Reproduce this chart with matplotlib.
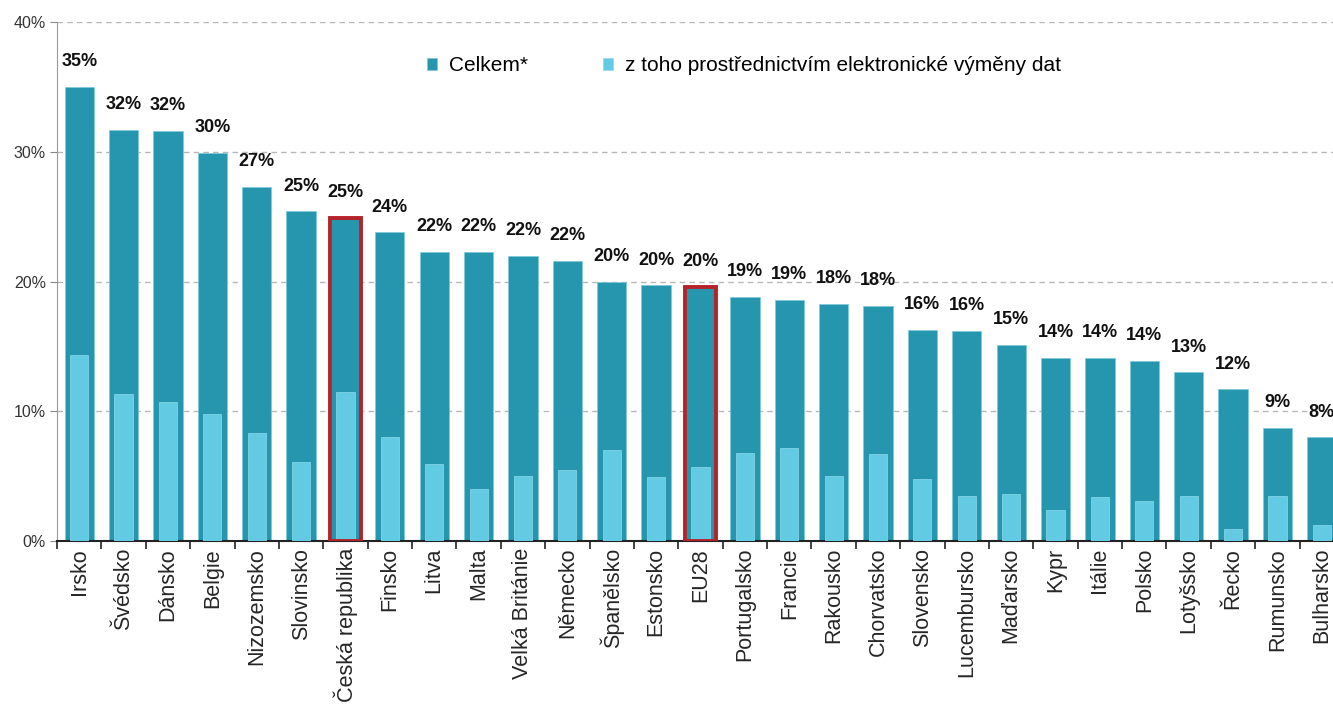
import matplotlib.pyplot as plt
import numpy as np
from matplotlib.ticker import FuncFormatter

plt.rcParams['font.family'] = ['Liberation Sans', 'DejaVu Sans']

countries = ["Irsko", "Švédsko", "Dánsko", "Belgie", "Nizozemsko", "Slovinsko",
             "Česká republika", "Finsko", "Litva", "Malta", "Velká Británie",
             "Německo", "Španělsko", "Estonsko", "EU28", "Portugalsko", "Francie",
             "Rakousko", "Chorvatsko", "Slovensko", "Lucembursko", "Maďarsko",
             "Kypr", "Itálie", "Polsko", "Lotyšsko", "Řecko", "Rumunsko", "Bulharsko"]
celkem = [35.0, 31.7, 31.6, 29.9, 27.3, 25.4, 24.9, 23.8, 22.3, 22.3, 22.0,
          21.6, 20.0, 19.7, 19.6, 18.8, 18.6, 18.3, 18.1, 16.3, 16.2, 15.1,
          14.1, 14.1, 13.9, 13.0, 11.7, 8.7, 8.0]
edi = [14.3, 11.3, 10.7, 9.8, 8.3, 6.1, 11.5, 8.0, 5.9, 4.0, 5.0,
       5.5, 7.0, 4.9, 5.7, 6.8, 7.2, 5.0, 6.7, 4.8, 3.5, 3.6,
       2.4, 3.4, 3.1, 3.5, 0.95, 3.5, 1.2]
highlight = ["Česká republika", "EU28"]

dark = "#2596ae"
light = "#62cbe3"
red = "#b5232a"

fig = plt.figure(figsize=(13.33, 7.13), dpi=100)
ax = fig.add_axes([57 / 1333, 172 / 713, 1287 / 1333, 519 / 713])

x = np.arange(len(countries))
ax.bar(x, celkem, width=0.66, color=dark, edgecolor="#7ccbdd", linewidth=0.5,
       zorder=2, label="Celkem*")
ax.bar(x, edi, width=0.41, color=light, edgecolor="#8fd9ea", linewidth=0.5,
       zorder=3, label="z toho prostřednictvím elektronické výměny dat")

# red frames
for i, c in enumerate(countries):
    if c in highlight:
        ax.bar(i, celkem[i], width=0.68, fill=False, edgecolor=red,
               linewidth=2.8, zorder=4)

# value labels
for i, v in enumerate(celkem):
    ax.annotate(f"{v:.0f}%", (i, v), xytext=(0, 12), textcoords="offset points",
                ha="center", va="bottom", fontsize=13, fontweight="bold",
                color="#111111")

ax.set_xlim(-0.5, len(countries) - 0.5)
ax.set_ylim(0, 40)
ax.set_yticks([0, 10, 20, 30, 40])
ax.yaxis.set_major_formatter(FuncFormatter(lambda v, p: f"{v:.0f}%"))
ax.grid(axis="y", color="#b8b8b8", linestyle=(0, (4, 3)), linewidth=1, zorder=0)
ax.set_axisbelow(True)

ax.set_xticks(x)
ax.set_xticklabels(countries, rotation=90, fontsize=15.5, color="#262626")
ax.set_xticks(np.arange(-0.5, len(countries), 1), minor=True)
ax.tick_params(axis="x", which="major", length=0, pad=5)
ax.tick_params(axis="x", which="minor", length=6, width=1.2, color="#222222")
ax.tick_params(axis="y", length=5, color="#888888", labelsize=11.5,
               labelcolor="#333333", pad=3)

for s in ["top", "right"]:
    ax.spines[s].set_visible(False)
ax.spines["left"].set_color("#999999")
ax.spines["bottom"].set_color("#222222")
ax.spines["bottom"].set_linewidth(1.5)

fig.legend(loc="upper left", bbox_to_anchor=(427 / 1333, 1 - 56 / 713),
           ncol=2, frameon=False, fontsize=15, handlelength=0.5,
           handleheight=0.5, handletextpad=0.55, columnspacing=3.6,
           borderpad=0, borderaxespad=0)

fig.savefig("out.png", dpi=100)
